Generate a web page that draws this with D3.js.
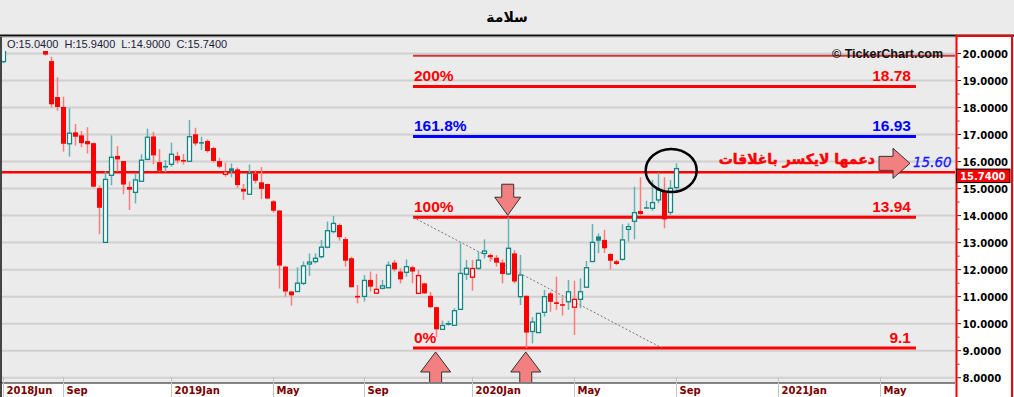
<!DOCTYPE html>
<html><head><meta charset="utf-8">
<script src="https://cdn.jsdelivr.net/npm/d3@7"></script>
<style>html,body{margin:0;padding:0;background:#ebebeb;overflow:hidden}</style>
</head><body>
<svg id="c" width="1014" height="397"></svg>
<script>
// Weekly candles (index 0 = first visible full candle, mid-2018). Index -7 is a partly visible candle;
// indexes -6..-1 are above the visible price range and are not drawn.
const firstIndex = -7;
const open  = [19.70,null,null,null,null,null,null,
 20.30,19.72,18.39,18.02,16.66,17.08,16.97,16.76,16.68,15.02,13.01,15.49,16.21,16.02,15.06,14.86,15.27,16.08,16.93,15.98,
 15.84,15.90,16.21,16.06,16.01,17.01,16.72,16.76,16.50,16.02,15.53,15.75,15.71,14.99,14.79,15.56,15.23,15.17,14.53,14.19,
 12.11,11.19,11.19,11.49,12.21,12.30,12.48,12.83,13.41,13.65,13.13,12.42,11.03,11.01,11.62,11.13,11.31,11.33,12.26,11.93,
 11.90,12.09,11.12,11.49,11.03,10.61,9.79,9.99,9.94,10.53,11.83,11.72,12.05,12.60,12.54,12.44,12.26,11.84,12.60,11.00,
 11.03,9.71,9.67,10.42,11.12,10.79,10.72,10.81,10.61,10.90,11.35,12.30,13.23,13.10,12.58,12.31,12.38,13.49,13.79,14.17,
 14.31,14.27,14.58,14.89,14.12,15.04];
const high  = [20.60,null,null,null,null,null,null,
 20.40,19.88,19.12,18.40,17.97,17.39,17.13,17.27,16.70,15.12,15.63,16.97,16.58,16.02,15.26,15.56,16.27,17.22,17.10,16.46,
 16.06,16.70,16.36,16.28,17.54,17.25,16.92,16.82,16.55,16.14,15.96,15.93,15.78,15.17,15.89,15.68,15.80,15.19,14.58,14.19,
 12.14,11.21,12.09,12.30,12.60,12.60,13.10,13.78,13.99,13.71,13.20,12.48,11.43,11.80,11.93,11.84,11.62,12.30,12.36,12.05,
 12.38,12.15,11.99,11.52,11.17,10.63,10.11,10.11,10.57,12.97,12.36,12.36,12.67,13.12,12.60,12.54,12.38,13.94,12.72,12.54,
 11.05,10.24,10.38,11.25,11.18,11.74,11.00,11.62,11.59,11.68,12.32,13.69,13.34,13.47,12.61,12.36,13.68,13.71,15.07,15.42,
 14.55,15.32,15.59,15.42,15.32,15.94];
const low   = [19.64,null,null,null,null,null,null,
 19.92,18.00,17.88,16.37,16.18,16.59,16.53,16.30,15.05,13.31,13.01,15.12,15.63,14.79,14.21,14.45,15.27,16.08,15.90,15.63,
 15.61,15.81,15.93,15.89,16.00,16.59,16.43,16.33,15.96,15.75,15.44,15.42,15.03,14.58,14.79,15.19,14.61,14.62,14.11,11.30,
 11.00,10.67,11.19,11.43,11.77,12.23,12.42,12.79,13.34,13.07,12.11,11.35,10.75,10.82,11.19,11.10,11.27,11.33,11.93,11.49,
 11.74,11.49,11.10,11.10,10.57,9.50,9.77,9.93,9.94,10.53,11.62,11.22,11.99,12.42,12.30,12.11,11.49,11.80,11.49,10.69,
 9.10,9.27,9.67,10.26,10.44,10.51,10.30,10.51,9.58,10.57,11.35,12.30,12.61,12.61,12.01,12.17,12.33,13.04,13.12,13.99,
 14.27,14.18,14.46,13.53,14.02,14.90];
const close = [20.50,null,null,null,null,null,null,
 19.96,18.12,18.02,16.66,17.05,16.92,16.68,16.64,15.07,14.29,15.34,16.16,16.08,15.15,14.96,15.32,16.05,16.90,16.23,15.66,
 15.78,16.27,16.04,16.00,16.92,16.67,16.68,16.39,16.02,15.81,15.62,15.64,15.13,14.89,15.56,15.29,14.99,14.63,14.18,12.15,
 11.19,11.05,11.50,12.14,12.28,12.42,12.83,13.44,13.71,13.20,12.33,11.35,10.97,11.60,11.37,11.27,11.40,12.16,12.01,11.64,
 12.11,11.93,11.78,11.12,10.61,9.79,9.93,10.00,10.48,11.86,12.05,12.04,12.35,12.69,12.46,12.26,11.84,12.79,11.56,11.80,
 9.67,10.06,10.38,11.00,10.81,10.73,10.67,11.18,10.90,11.18,12.07,13.01,13.07,12.79,12.33,12.21,13.10,13.59,14.11,14.06,
 14.28,14.48,14.95,13.86,15.01,15.74];

const xTickLabels = ["2018Jun","Sep","2019Jan","May","Sep","2020Jan","May","Sep","2021Jan","May"];
const xTickIndex  = [-7,3,21,38,53,71,88,105,122,139];
const yTicks = [8,9,10,11,12,13,14,15,16,17,18,19,20];

// Fibonacci retracement levels (0% = 9.1, 100% = 13.94)
const fibNames  = ["0%","100%","161.8%","200%"];
const fibValues = [9.1,13.94,16.93,18.78];
const fibLabels = ["9.1","13.94","16.93","18.78"];
const fibColors = ["#ff0000","#ff0000","#0000ff","#ff0000"];
const fibExtra = 19.92;          // 223.6% level (label hidden)
const supportLevel = 15.60;
const lastPrice = 15.74;
const title = "سلامة";
const note = "دعمها لايكسر باغلاقات";

const svg = d3.select("#c");
const W = 1014, H = 397;
const plotRight = 955, plotTop = 51, plotBottom = 382;

const x = d3.scaleLinear().domain([0,105]).range([45,676]);
const y = d3.scaleLinear().domain([8,20]).range([377.7,53.5]);

svg.append("rect").attr("width",W).attr("height",H).attr("fill","#ebebeb");

// title
svg.append("text").attr("x",507).attr("y",22).attr("text-anchor","middle")
  .attr("font-family","DejaVu Sans, sans-serif").attr("font-weight","bold").attr("font-size",14)
  .attr("fill","#000").text(title);
svg.append("line").attr("x1",0).attr("x2",W).attr("y1",35.5).attr("y2",35.5).attr("stroke","#111").attr("stroke-width",2);
svg.append("line").attr("x1",0).attr("x2",plotRight).attr("y1",37.5).attr("y2",37.5).attr("stroke","#cfcfcf").attr("stroke-width",1);

// gridlines
svg.append("g").selectAll("line").data(yTicks).join("line")
  .attr("x1",2).attr("x2",plotRight).attr("y1",d=>y(d)).attr("y2",d=>y(d))
  .attr("stroke","#d0d0d0").attr("stroke-width",2);

// left border
svg.append("line").attr("x1",1).attr("x2",1).attr("y1",37).attr("y2",383).attr("stroke","#444").attr("stroke-width",2);

// OHLC info text
svg.append("text").attr("x",7).attr("y",48)
  .attr("font-family","Liberation Sans, Arial, sans-serif").attr("font-size",11).attr("fill","#1c1c3c")
  .attr("xml:space","preserve")
  .text(`O:${open[open.length-1].toFixed(4)}  H:${high[high.length-1].toFixed(4)}  L:${low[low.length-1].toFixed(4)}  C:${close[close.length-1].toFixed(4)}`);

const defs = svg.append("defs");
defs.append("clipPath").attr("id","plotclip").append("rect")
  .attr("x",2).attr("y",plotTop).attr("width",plotRight-2).attr("height",plotBottom-plotTop);

const plot = svg.append("g").attr("clip-path","url(#plotclip)");

// fib lines
const fibX0 = x.invert(413), fibX1 = x.invert(916), fibXExtraEnd = x.invert(955);
plot.append("line").attr("x1",x(fibX0)).attr("x2",x(fibXExtraEnd)).attr("y1",y(fibExtra)).attr("y2",y(fibExtra))
  .attr("stroke","#cc3a3a").attr("stroke-width",2);

// support line 15.60
plot.append("line").attr("x1",0).attr("x2",plotRight).attr("y1",y(supportLevel)).attr("y2",y(supportLevel))
  .attr("stroke","#ff0000").attr("stroke-width",2.5);

fibValues.forEach((v,i)=>{
  plot.append("line").attr("x1",x(fibX0)).attr("x2",x(fibX1)).attr("y1",y(v)).attr("y2",y(v))
    .attr("stroke",fibColors[i]).attr("stroke-width",3);
  plot.append("text").attr("x",x(fibX0)+1).attr("y",y(v)-5)
    .attr("font-family","Liberation Sans, Arial, sans-serif").attr("font-weight","bold").attr("font-size",15.5)
    .attr("fill",fibColors[i]).text(fibNames[i]);
  plot.append("text").attr("x",x(fibX1)-5).attr("y",y(v)-5).attr("text-anchor","end")
    .attr("font-family","Liberation Sans, Arial, sans-serif").attr("font-weight","bold").attr("font-size",15.5)
    .attr("fill",fibColors[i]).text(fibLabels[i]);
});

// fib diagonal
plot.append("line").attr("x1",x(fibX0)).attr("y1",y(fibValues[1])).attr("x2",x(x.invert(662))).attr("y2",y(fibValues[0]))
  .attr("stroke","#777").attr("stroke-width",1).attr("stroke-dasharray","2,2");

// candles
const teal = "#0f8585", red = "#ff0000";
const candles = open.map((o,k)=>({i:k+firstIndex,o,h:high[k],l:low[k],c:close[k]}))
  .filter(d=>d.o!=null);
const cg = plot.append("g");
candles.forEach((d,k)=>{
  const prevC = k>0 ? candles[k-1].c : d.o;
  const col = d.c >= prevC ? teal : red;
  const wickCol = d.c >= prevC ? "#66b3b3" : "#ff7a7a";
  const hollow = d.c >= d.o;
  const cx = Math.round(x(d.i));
  cg.append("line").attr("x1",cx+0.5).attr("x2",cx+0.5).attr("y1",y(d.h)).attr("y2",y(d.l))
    .attr("stroke",wickCol).attr("stroke-width",1.5);
  const top = y(Math.max(d.o,d.c)), bot = y(Math.min(d.o,d.c));
  if (hollow) {
    cg.append("rect").attr("x",cx-1.5).attr("y",top).attr("width",4).attr("height",Math.max(bot-top,0.5))
      .attr("fill","#ffffff").attr("stroke",col).attr("stroke-width",1.3);
  } else {
    cg.append("rect").attr("x",cx-2).attr("y",top).attr("width",5).attr("height",Math.max(bot-top,1.5))
      .attr("fill",col);
  }
});

// ellipse around last candles
plot.append("ellipse").attr("cx",x(104.2)).attr("cy",y(15.67)).attr("rx",25.5).attr("ry",21.5)
  .attr("fill","none").attr("stroke","#000").attr("stroke-width",2.5);

// arrows
const arrowFill = "#f28080", arrowStroke = "#333";
function downArrow(cx, tipY){
  const p = [[cx-6,tipY-31],[cx+6,tipY-31],[cx+6,tipY-18],[cx+13,tipY-18],[cx,tipY],[cx-13,tipY-18],[cx-6,tipY-18]];
  plot.append("path").attr("d","M"+p.join("L")+"Z").attr("fill",arrowFill).attr("stroke",arrowStroke).attr("stroke-width",1);
}
function upArrow(cx, tipY, bottom){
  const p = [[cx,tipY],[cx+15,tipY+20],[cx+6,tipY+20],[cx+6,bottom],[cx-6,bottom],[cx-6,tipY+20],[cx-15,tipY+20]];
  plot.append("path").attr("d","M"+p.join("L")+"Z").attr("fill",arrowFill).attr("stroke",arrowStroke).attr("stroke-width",1);
}
downArrow(x(77), y(fibValues[1])-2);
upArrow(x(65), y(fibValues[0])+4, 384);
upArrow(x(80), y(fibValues[0])+4, 384);
// right arrow pointing to 15.60 label
(function(){
  const tipX = 910, cy = y(supportLevel)-9;
  const p = [[879,cy-7],[893,cy-7],[893,cy-15],[tipX,cy],[893,cy+15],[893,cy+7],[879,cy+7]];
  plot.append("path").attr("d","M"+p.join("L")+"Z").attr("fill",arrowFill).attr("stroke",arrowStroke).attr("stroke-width",1);
})();

plot.append("text").attr("x",913).attr("y",y(supportLevel)-5)
  .attr("font-family","DejaVu Sans, sans-serif").attr("font-style","italic").attr("font-size",13.5)
  .attr("fill","#1a1aff").attr("stroke","#1a1aff").attr("stroke-width",0.3).text(supportLevel.toFixed(2));

plot.append("text").attr("x",875).attr("y",y(supportLevel)-8.5).attr("text-anchor","end")
  .attr("font-family","DejaVu Sans, sans-serif").attr("font-weight","bold").attr("font-size",14)
  .attr("fill","#ff0000").attr("stroke","#ff0000").attr("stroke-width",0.5).text(note);

// watermark
svg.append("text").attr("x",832).attr("y",58)
  .attr("font-family","Liberation Sans, Arial, sans-serif").attr("font-weight","bold").attr("font-size",12.5)
  .attr("fill","#111").text("© TickerChart.com");

// x axis strip
svg.append("rect").attr("x",0).attr("y",383).attr("width",plotRight+1).attr("height",H-383).attr("fill","#ffffff");
svg.append("line").attr("x1",0).attr("x2",plotRight).attr("y1",383).attr("y2",383).attr("stroke","#111").attr("stroke-width",1.2);
const xt = svg.append("g");
xTickIndex.forEach((ti,k)=>{
  const tx = Math.round(x(ti))+0.5;
  xt.append("line").attr("x1",tx).attr("x2",tx).attr("y1",377).attr("y2",H).attr("stroke","#c4c4c4").attr("stroke-width",1);
  xt.append("text").attr("x",tx+3).attr("y",394)
    .attr("font-family","DejaVu Sans, sans-serif").attr("font-weight","bold").attr("font-size",10)
    .attr("fill","#7a0000").text(xTickLabels[k]);
});
svg.append("line").attr("x1",1).attr("x2",1).attr("y1",383).attr("y2",H).attr("stroke","#444").attr("stroke-width",2);

// right price axis
svg.append("rect").attr("x",956.5).attr("y",36).attr("width",55.5).attr("height",H+4-36)
  .attr("fill","#ffffff").attr("stroke","#ff0000").attr("stroke-width",2);
const ya = svg.append("g");
yTicks.forEach(v=>{
  ya.append("line").attr("x1",957.5).attr("x2",961).attr("y1",y(v)).attr("y2",y(v)).attr("stroke","#222").attr("stroke-width",1);
  ya.append("text").attr("x",962.5).attr("y",y(v)+4)
    .attr("font-family","DejaVu Sans, sans-serif").attr("font-weight","bold").attr("font-size",10)
    .attr("fill","#000").text(v.toFixed(4));
});
d3.range(8.5,20,1).forEach(v=>{
  ya.append("line").attr("x1",957.5).attr("x2",959.5).attr("y1",y(v)).attr("y2",y(v)).attr("stroke","#444").attr("stroke-width",1);
});
// last price box
ya.append("rect").attr("x",956.5).attr("y",y(lastPrice)+0.5).attr("width",53.5).attr("height",13.5)
  .attr("fill","#ff0000").attr("stroke","#000").attr("stroke-width",1);
ya.append("text").attr("x",960).attr("y",y(lastPrice)+11.5)
  .attr("font-family","DejaVu Sans, sans-serif").attr("font-weight","bold").attr("font-size",10)
  .attr("fill","#ffffff").text(lastPrice.toFixed(4));
</script>
</body></html>
